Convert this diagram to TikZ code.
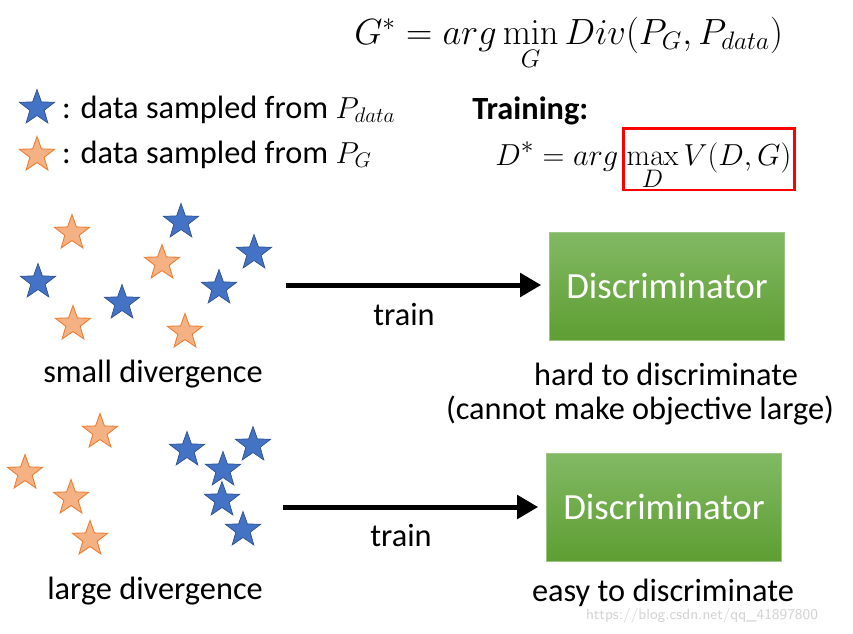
\documentclass[tikz,border=0pt]{standalone}
\usepackage{amsmath, amssymb}
\usepackage[no-math]{fontspec}
\setmainfont{Carlito}
\usepackage{xcolor}
\usepackage{tikz}
\usetikzlibrary{shapes.geometric, arrows.meta, positioning}

\definecolor{datablue}{HTML}{4472C4}
\definecolor{datablueline}{HTML}{2F528F}
\definecolor{genorange}{HTML}{F4B183}
\definecolor{genorangeline}{HTML}{ED7D31}
\definecolor{disctop}{HTML}{82B964}
\definecolor{discbot}{HTML}{5E9E32}

\begin{document}
\begin{tikzpicture}[
    x=0.02cm, y=-0.02cm,
    realstar/.style={star, star points=5, star point ratio=2.45, minimum size=0.74cm, inner sep=0pt, fill=datablue, draw=datablueline, line width=0.4pt},
    genstar/.style={star, star points=5, star point ratio=2.45, minimum size=0.74cm, inner sep=0pt, fill=genorange, draw=genorangeline, line width=0.5pt},
    disc/.style={minimum width=4.7cm, minimum height=2.16cm, top color=disctop, bottom color=discbot, draw=disctop!80!white, text=white, font=\fontsize{21}{25}\selectfont},
    txt/.style={font=\fontsize{18.4}{22}\selectfont},
    arrow/.style={-{Triangle[length=0.42cm, width=0.46cm]}, line width=0.1cm, shorten >=0.16cm}
]
\useasboundingbox (0,0) rectangle (853,633);
\node[anchor=base west, inner sep=0pt, font=\fontsize{21}{25}\selectfont] (gstar) at (354,44) {$G^*=arg\min\limits_{G} Div(P_G,P_{data})$};
\node[realstar] (legb) at (37,108) {};
\node[genstar] (lego) at (37,155) {};
\node[txt, anchor=base west] (legbtxt) at (56,118) {: data sampled from $P_{data}$};
\node[txt, anchor=base west] (legotxt) at (56,163) {: data sampled from $P_G$};
\node[txt, anchor=base west, inner sep=0pt, font=\fontsize{18.4}{22}\selectfont\bfseries] (training) at (472,119) {Training:};
\node[draw=red, line width=0.06cm, minimum width=3.44cm, minimum height=1.24cm, inner sep=0pt, font=\fontsize{19}{22}\selectfont] (maxv) at (709,159) {\raisebox{-0.12cm}[0pt][0pt]{$\max\limits_{D} V(D,G)$}};
\node[anchor=base east, inner sep=0pt, font=\fontsize{19}{22}\selectfont] (dstar) at ([xshift=-0.06cm, yshift=-0.12cm]maxv.base west) {$D^*=arg$};
\node[genstar] (o1) at (72,233) {};
\node[realstar] (b1) at (181,222) {};
\node[realstar] (b2) at (38,282) {};
\node[genstar] (o2) at (162,263) {};
\node[realstar] (b3) at (254,253) {};
\node[realstar] (b4) at (122,303) {};
\node[realstar] (b5) at (219,288) {};
\node[genstar] (o3) at (73,324) {};
\node[genstar] (o4) at (185,332) {};
\node[txt] (small) at (153,374) {small divergence};
\node[genstar] (o5) at (100,432) {};
\node[genstar] (o6) at (25,473) {};
\node[genstar] (o7) at (71,498) {};
\node[genstar] (o8) at (90,539) {};
\node[realstar] (b6) at (187,450) {};
\node[realstar] (b7) at (253,445) {};
\node[realstar] (b8) at (223,470) {};
\node[realstar] (b9) at (222,500) {};
\node[realstar] (b10) at (243,530) {};
\node[txt] (large) at (155,591) {large divergence};
\node[disc] (disc1) at (667,286) {Discriminator};
\node[disc] (disc2) at (664,507) {Discriminator};
\node[txt] (hard) at (666,374) {hard to discriminate};
\node[txt] (cannot) at (640,410) {(cannot make objective large)};
\node[txt, inner sep=0pt] (easy) at (663,593) {easy to discriminate};
\node[font=\fontsize{8.5}{10}\selectfont\sffamily, text=gray!35, inner sep=0pt] (mark) at (702,616) {https://blog.csdn.net/qq\_41897800};
\coordinate (from1) at (286,285);
\coordinate (from2) at (283,507);
\draw[arrow] (from1) -- (disc1.west |- from1);
\draw[arrow] (from2) -- (disc2.west |- from2);
\node[txt] (train1) at (404,314) {train};
\node[txt] (train2) at (401,535) {train};
\end{tikzpicture}
\end{document}
